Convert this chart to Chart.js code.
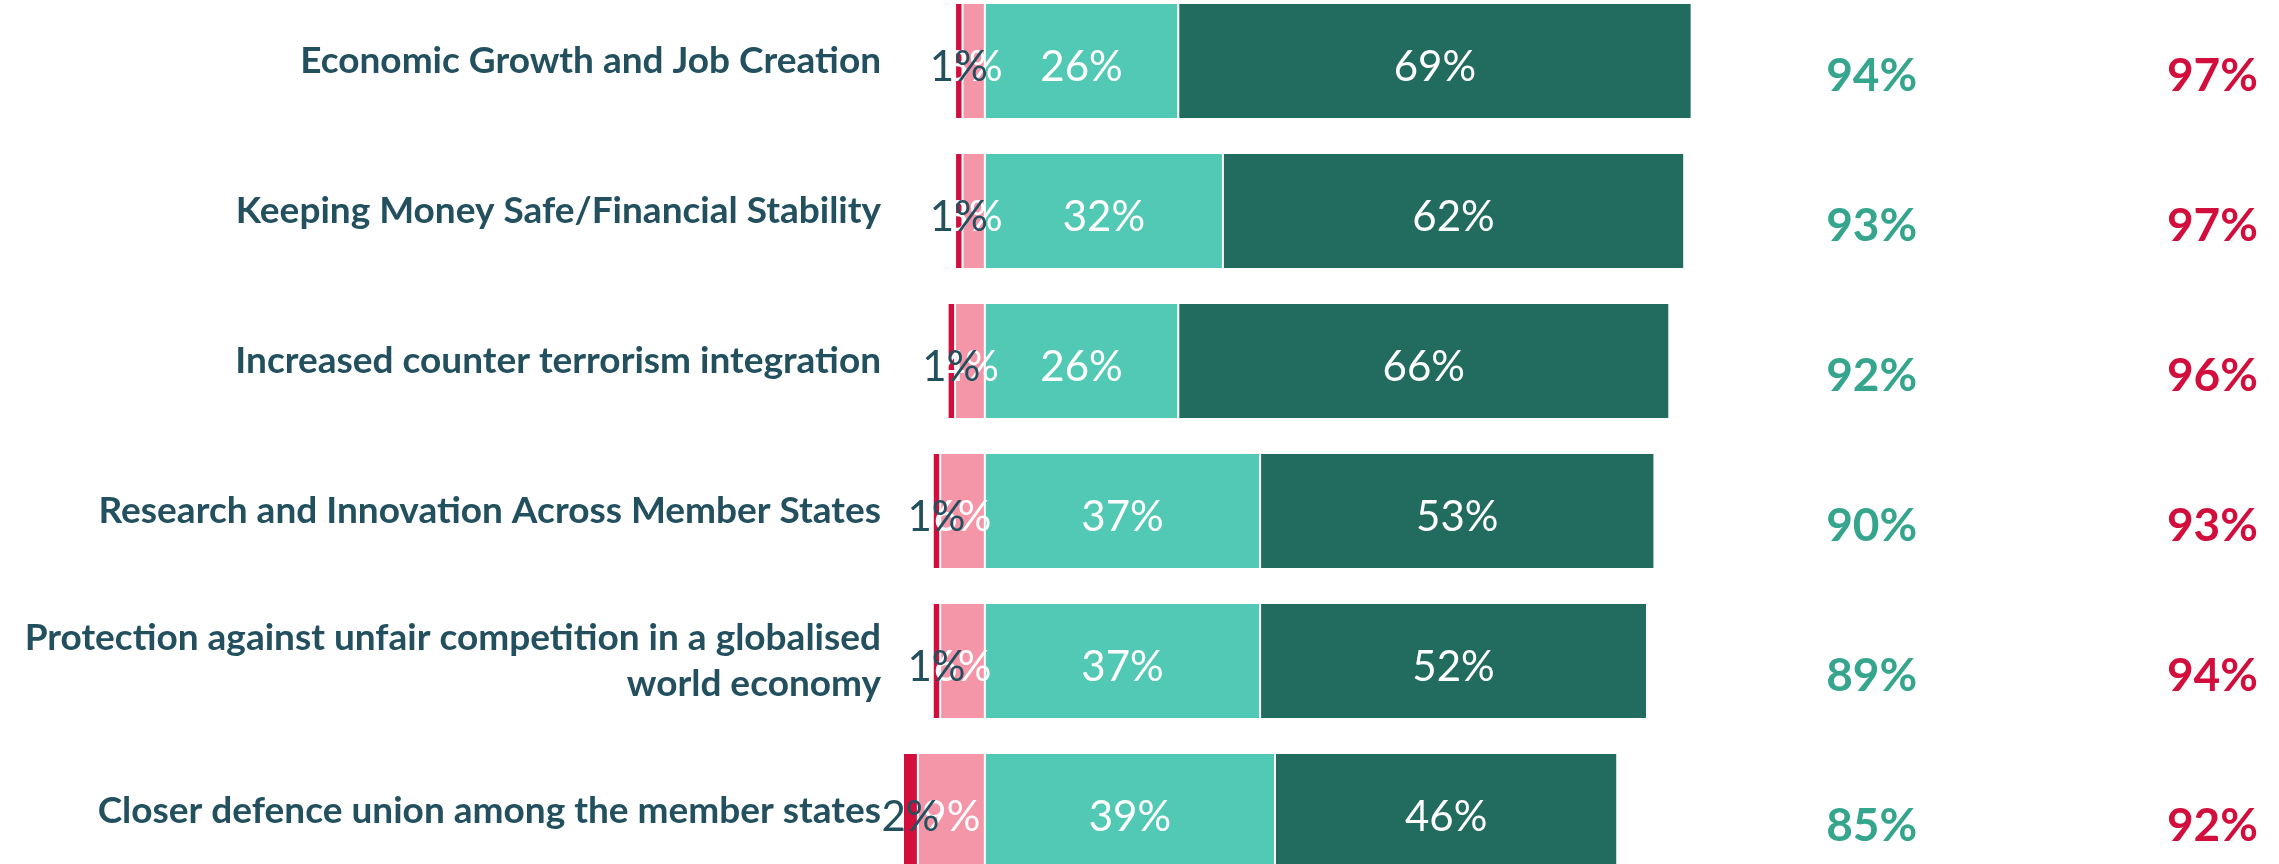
<!DOCTYPE html>
<html>
<head>
<meta charset="utf-8">
<script src="https://cdn.jsdelivr.net/npm/chart.js@4.4.1/dist/chart.umd.min.js"></script>
<style>
  html, body { margin: 0; padding: 0; background: #fff; overflow: hidden; width: 2279px; height: 864px; }
  /* the reference crops the first and last rows a little, so the plot runs past the window */
  #wrap { position: absolute; left: 0; top: -14px; width: 2279px; height: 900px; }
</style>
</head>
<body>
<div id="wrap"><canvas id="chart"></canvas></div>
<script>
// values (percent)
const categories = [
    'Economic Growth and Job Creation',
    'Keeping Money Safe/Financial Stability',
    'Increased counter terrorism integration',
    'Research and Innovation Across Member States',
    ['Protection against unfair competition in a globalised', 'world economy'],
    'Closer defence union among the member states'
];
const strongNegative = [1, 1, 1, 1, 1, 2];
const negative = [3, 3, 4, 6, 6, 9];
const positive = [26, 32, 26, 37, 37, 39];
const strongPositive = [69, 62, 66, 53, 52, 46];
const greenTotals = [94, 93, 92, 90, 89, 85];
const redTotals = [97, 97, 96, 93, 94, 92];

const TEXT_DARK = '#23505F';
const GREEN = '#36A58E';
const RED = '#D20F3C';

// draws the value inside each segment and the two total columns on the right
const labelPlugin = {
    id: 'labelPlugin',
    afterDatasetsDraw(chart) {
        const ctx = chart.ctx;
        ctx.save();
        ctx.textAlign = 'center';
        ctx.textBaseline = 'middle';
        ctx.font = '42px Lato';
        chart.data.datasets.forEach((ds, i) => {
            const meta = chart.getDatasetMeta(i);
            meta.data.forEach((bar, j) => {
                const p = bar.getCenterPoint();
                ctx.fillStyle = ds.labelColor;
                ctx.fillText(Math.abs(ds.data[j]) + '%', p.x, p.y + 6);
            });
        });

        const xs = chart.scales.x;
        const ys = chart.scales.y;
        ctx.font = 'bold 46px Lato';
        categories.forEach((c, j) => {
            const y = ys.getPixelForValue(j) + 15;
            ctx.fillStyle = GREEN;
            ctx.fillText(greenTotals[j] + '%', xs.getPixelForValue(119.2), y);
            ctx.fillStyle = RED;
            ctx.fillText(redTotals[j] + '%', xs.getPixelForValue(165), y);
        });
        ctx.restore();
    }
};

const ctx = document.getElementById('chart').getContext('2d');
new Chart(ctx, {
    type: 'bar',
    data: {
        labels: categories,
        datasets: [
            { label: 'Oppose', data: negative.map(v => -v), backgroundColor: '#F595A8', labelColor: '#fff' },
            { label: 'Strongly oppose', data: strongNegative.map(v => -v), backgroundColor: RED, labelColor: TEXT_DARK },
            { label: 'Support', data: positive, backgroundColor: '#52C9B4', labelColor: '#fff' },
            { label: 'Strongly support', data: strongPositive, backgroundColor: '#216B5F', labelColor: '#fff' }
        ]
    },
    options: {
        indexAxis: 'y',
        responsive: true,
        maintainAspectRatio: false,
        animation: false,
        layout: { padding: { top: 0, bottom: 0, left: 0, right: 14.5 } },
        datasets: {
            bar: {
                barPercentage: 0.76,
                categoryPercentage: 1,
                borderColor: '#fff',
                borderWidth: { left: 1, right: 1, top: 0, bottom: 0 },
                borderSkipped: false
            }
        },
        plugins: {
            legend: { display: false },
            tooltip: { enabled: false }
        },
        scales: {
            x: {
                stacked: true,
                display: false,
                min: -11,
                max: 172
            },
            y: {
                stacked: true,
                grid: { display: false },
                border: { display: false },
                afterFit(scale) {
                    scale.width = 903;
                    scale.paddingTop = 0;
                    scale.paddingBottom = 0;
                },
                ticks: {
                    color: TEXT_DARK,
                    padding: 14,
                    font: { family: 'Lato', weight: 'bold', size: 37, lineHeight: 1.25 }
                }
            }
        }
    },
    plugins: [labelPlugin]
});
</script>
</body>
</html>
